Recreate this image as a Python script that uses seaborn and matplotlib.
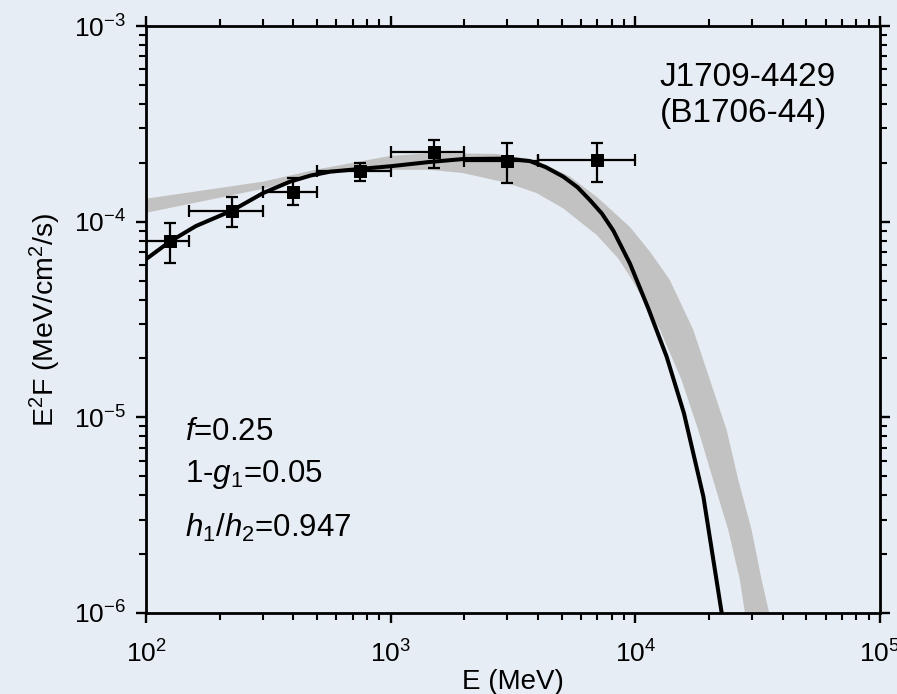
import numpy as np
import pandas as pd
import matplotlib
matplotlib.use("Agg")
import matplotlib.pyplot as plt
import seaborn as sns

# ---- data ----
E_pts = [125, 225, 400, 750, 1500, 3000, 7000]
F_pts = [7.97e-5, 1.14e-4, 1.42e-4, 1.82e-4, 2.26e-4, 2.05e-4, 2.07e-4]
F_hi = [9.8e-5, 1.33e-4, 1.67e-4, 2.0e-4, 2.61e-4, 2.51e-4, 2.53e-4]
F_lo = [6.18e-5, 9.4e-5, 1.21e-4, 1.62e-4, 1.87e-4, 1.58e-4, 1.60e-4]
E_lo = [100, 150, 300, 500, 1000, 2000, 4000]
E_hi = [150, 300, 500, 1000, 2000, 4000, 10000]

E_model = [100, 125, 160, 225, 301, 387, 470, 564, 750, 1000, 1449, 1982,
           2977, 3707, 4300, 5070, 5800, 6518, 7300, 8128, 9510, 11300,
           13430, 15800, 18970, 22540]
F_model = [6.43e-5, 7.9e-5, 9.5e-5, 1.14e-4, 1.40e-4, 1.60e-4, 1.72e-4,
           1.80e-4, 1.86e-4, 1.92e-4, 2.02e-4, 2.09e-4, 2.10e-4, 2.04e-4,
           1.90e-4, 1.70e-4, 1.50e-4, 1.29e-4, 1.10e-4, 9.0e-5, 6.1e-5,
           3.6e-5, 2.04e-5, 1.05e-5, 3.94e-6, 1.0e-6]

E_band_up = [100, 300, 500, 1000, 1450, 2700, 3950, 5400, 6950, 9500, 11500,
             13830, 17250, 20190, 23610, 26350, 29870, 32810, 35240]
F_band_up = [1.31e-4, 1.60e-4, 1.85e-4, 2.17e-4, 2.24e-4, 2.22e-4, 2.06e-4,
             1.70e-4, 1.34e-4, 9.4e-5, 7.0e-5, 5.04e-5, 2.80e-5, 1.55e-5,
             8.63e-6, 4.79e-6, 2.66e-6, 1.48e-6, 1.0e-6]
E_band_lo = [100, 300, 560, 1000, 1450, 1980, 2980, 3950, 5070, 6950, 8500,
             9700, 12620, 15460, 18070, 20800, 23970, 26740, 28050]
F_band_lo = [1.11e-4, 1.47e-4, 1.80e-4, 1.84e-4, 1.84e-4, 1.77e-4, 1.58e-4,
             1.40e-4, 1.17e-4, 8.55e-5, 6.5e-5, 5.04e-5, 2.80e-5, 1.55e-5,
             8.63e-6, 4.79e-6, 2.66e-6, 1.48e-6, 1.0e-6]

title_lines = ["J1709-4429", "(B1706-44)"]
params = [r"$f$=0.25", r"1-$g_1$=0.05", r"$h_1$/$h_2$=0.947"]

# ---- style ----
sns.set_theme(style="ticks")
bg = "#e7edf4"
plt.rcParams["font.family"] = ["Liberation Sans", "DejaVu Sans"]
plt.rcParams["mathtext.fontset"] = "custom"
plt.rcParams["mathtext.rm"] = "Liberation Sans"
plt.rcParams["mathtext.it"] = "Liberation Sans:italic"
plt.rcParams["mathtext.bf"] = "Liberation Sans:bold"
plt.rcParams["axes.unicode_minus"] = False
plt.rcParams["text.color"] = "black"
plt.rcParams["axes.labelcolor"] = "black"
plt.rcParams["xtick.color"] = "black"
plt.rcParams["ytick.color"] = "black"

fig = plt.figure(figsize=(8.97, 6.94), dpi=100, facecolor=bg)
ax = fig.add_axes([146 / 897, 1 - 613 / 694, 734 / 897, 587 / 694])
ax.set_facecolor(bg)

# grey band
bx = np.concatenate([E_band_up, E_band_lo[::-1]])
by = np.concatenate([F_band_up, F_band_lo[::-1]])
ax.fill(bx, by, color="#c2c2c2", lw=0, zorder=1)

# model curve
df_model = pd.DataFrame({"E": E_model, "F": F_model})
sns.lineplot(data=df_model, x="E", y="F", ax=ax, color="black", linewidth=2.9,
             zorder=3, sort=False)

# data points
E_arr = np.array(E_pts); F_arr = np.array(F_pts)
xerr = [E_arr - np.array(E_lo), np.array(E_hi) - E_arr]
yerr = [F_arr - np.array(F_lo), np.array(F_hi) - F_arr]
ax.errorbar(E_arr, F_arr, xerr=xerr, yerr=yerr, fmt="none", ecolor="black",
            elinewidth=1.6, capsize=4.5, capthick=1.6, zorder=4)
df_pts = pd.DataFrame({"E": E_pts, "F": F_pts})
sns.scatterplot(data=df_pts, x="E", y="F", ax=ax, marker="s", s=80,
                color="black", edgecolor="black", zorder=5)

ax.set_xscale("log")
ax.set_yscale("log")
ax.set_xlim(1e2, 1e5)
ax.set_ylim(1e-6, 1e-3)

for s in ax.spines.values():
    s.set_linewidth(2.0)
    s.set_color("black")
    s.set_visible(True)

ax.tick_params(which="both", direction="out", top=True, right=True,
               color="black", labelcolor="black")
ax.tick_params(which="major", length=7.5, width=1.7, pad=7, labelsize=19)
ax.tick_params(which="minor", length=5, width=1.5)
ax.tick_params(axis="x", which="major", pad=12)

ax.set_xlabel("E (MeV)", fontsize=20, labelpad=1)
ax.set_ylabel(r"E$^2$F (MeV/cm$^2$/s)", fontsize=20.5, labelpad=8)

ax.text(0.700, 0.897, title_lines[0], transform=ax.transAxes, fontsize=24,
        ha="left", va="baseline")
ax.text(0.700, 0.836, title_lines[1], transform=ax.transAxes, fontsize=24,
        ha="left", va="baseline")

for txt, yy in zip(params, [0.295, 0.223, 0.129]):
    ax.text(0.053, yy, txt, transform=ax.transAxes, fontsize=22.5,
            ha="left", va="baseline")

fig.savefig("out.png", dpi=100, facecolor=bg)
